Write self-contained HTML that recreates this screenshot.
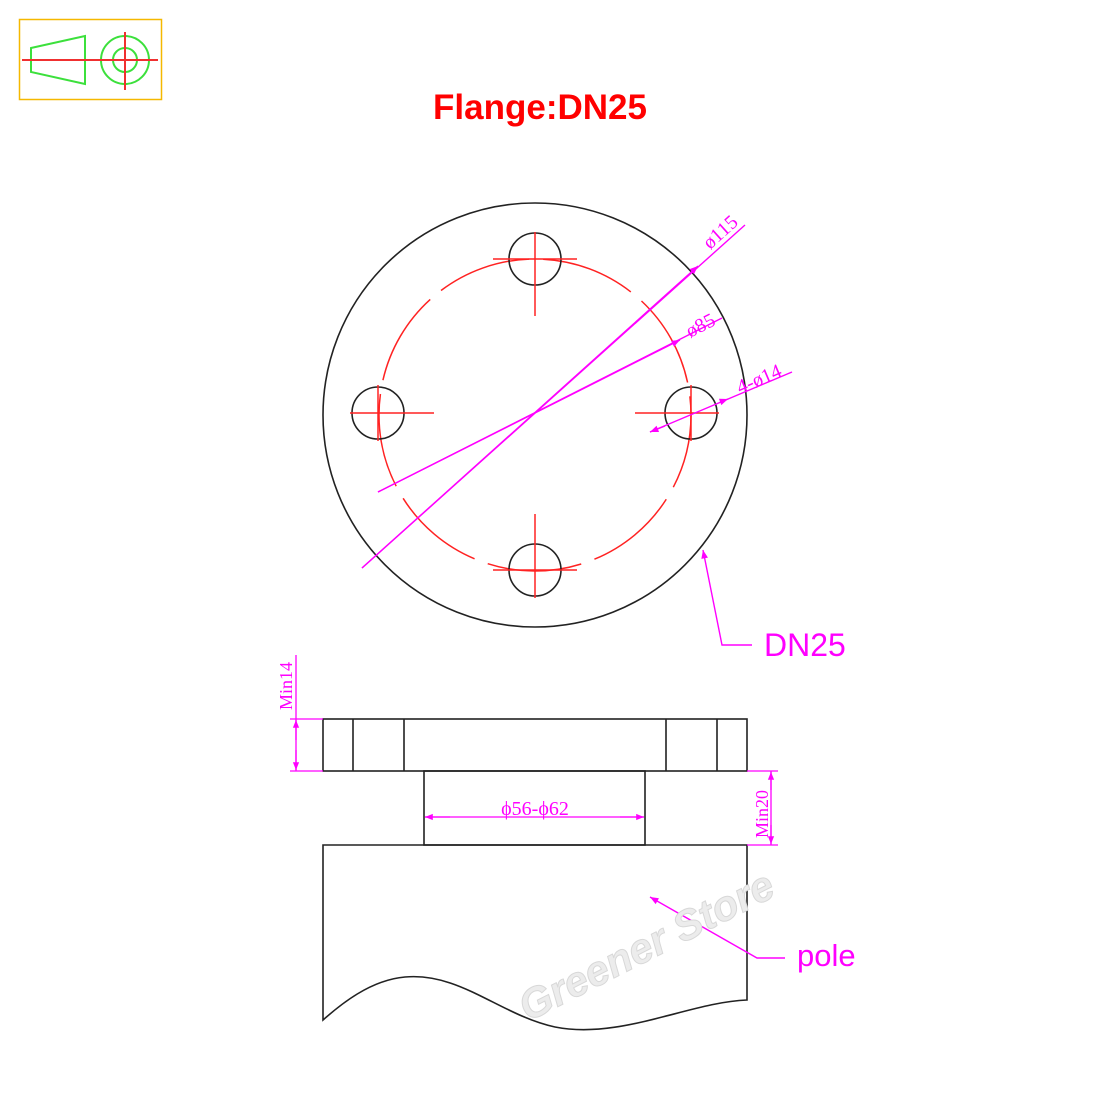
<!DOCTYPE html>
<html><head><meta charset="utf-8"><style>
html,body{margin:0;padding:0;background:#fff;}
svg{display:block;}
</style></head><body>
<svg width="1100" height="1100" viewBox="0 0 1100 1100" xmlns="http://www.w3.org/2000/svg" font-family="Liberation Sans, sans-serif">
<defs>
<marker id="ar" viewBox="0 0 10 10" refX="10" refY="5" markerWidth="9" markerHeight="6" orient="auto-start-reverse"><path d="M0,1 L10,5 L0,9 z" fill="#f0f"/></marker>
</defs>
<!-- icon -->
<rect x="19.5" y="19.5" width="142" height="80" fill="none" stroke="#f5b800" stroke-width="1.5"/>
<path d="M31,48 L85,36 L85,84 L31,72 Z" fill="none" stroke="#3ce03c" stroke-width="2"/>
<circle cx="125" cy="60" r="24" fill="none" stroke="#3ce03c" stroke-width="2"/>
<circle cx="125" cy="60" r="12" fill="none" stroke="#3ce03c" stroke-width="2"/>
<line x1="22" y1="60" x2="158" y2="60" stroke="#f03030" stroke-width="2"/>
<line x1="125" y1="32" x2="125" y2="90" stroke="#f03030" stroke-width="2"/>
<!-- title -->
<text x="540" y="119" text-anchor="middle" font-size="35" font-weight="bold" fill="#f00">Flange:DN25</text>
<!-- top view -->
<circle cx="535" cy="415" r="212" fill="none" stroke="#222" stroke-width="1.6"/>
<circle cx="535" cy="415" r="156" fill="none" stroke="#f22" stroke-width="1.5" stroke-dasharray="95,14" stroke-dashoffset="20"/>
<g fill="none" stroke="#222" stroke-width="1.6">
<circle cx="535" cy="259" r="26"/><circle cx="378" cy="413" r="26"/><circle cx="691" cy="413" r="26"/><circle cx="535" cy="570" r="26"/>
</g>
<g stroke="#f22" stroke-width="1.5">
<line x1="493" y1="259" x2="577" y2="259"/><line x1="535" y1="232" x2="535" y2="316"/>
<line x1="350" y1="413" x2="434" y2="413"/><line x1="378" y1="385" x2="378" y2="441"/>
<line x1="635" y1="413" x2="719" y2="413"/><line x1="691" y1="385" x2="691" y2="441"/>
<line x1="493" y1="570" x2="577" y2="570"/><line x1="535" y1="514" x2="535" y2="598"/>
</g>
<g stroke="#f0f" stroke-width="1.4" fill="none">
<line x1="362" y1="568" x2="745" y2="225" />
<line x1="362" y1="568" x2="698" y2="266" marker-end="url(#ar)"/>
<line x1="378" y1="492" x2="722" y2="318"/>
<line x1="378" y1="492" x2="680" y2="340" marker-end="url(#ar)"/>
<line x1="650" y1="432" x2="792" y2="372"/>
<line x1="650" y1="432" x2="665" y2="426" marker-start="url(#ar)"/>
<line x1="720" y1="402" x2="728" y2="399" marker-end="url(#ar)"/>
</g>
<g fill="#f0f" font-family="Liberation Serif, serif" font-size="20">
<text transform="translate(710,250) rotate(-42)">ø115</text>
<text transform="translate(690,338) rotate(-27)">ø85</text>
<text transform="translate(740,394) rotate(-23)">4-ø14</text>
</g>
<!-- DN25 leader -->
<polyline points="703,550 722,645 752,645" fill="none" stroke="#f0f" stroke-width="1.4" marker-start="url(#ar)"/>
<text x="764" y="656" font-size="32" fill="#f0f">DN25</text>
<!-- side view -->
<g fill="none" stroke="#222" stroke-width="1.6">
<rect x="323" y="719" width="424" height="52"/>
<line x1="353" y1="719" x2="353" y2="771"/><line x1="404" y1="719" x2="404" y2="771"/>
<line x1="666" y1="719" x2="666" y2="771"/><line x1="717" y1="719" x2="717" y2="771"/>
<rect x="424" y="771" width="221" height="74"/>
<path d="M323,845 L747,845 L747,1000 C690,1002 620,1040 555,1027 C500,1015 460,972 405,977 C370,980 340,1005 323,1020 Z"/>
</g>
<g stroke="#f0f" stroke-width="1.3" fill="none">
<line x1="296" y1="655" x2="296" y2="771"/>
<line x1="290" y1="719" x2="323" y2="719"/><line x1="290" y1="771" x2="323" y2="771"/>
<line x1="296" y1="740" x2="296" y2="720" marker-end="url(#ar)"/>
<line x1="296" y1="750" x2="296" y2="770" marker-end="url(#ar)"/>
<line x1="771" y1="771" x2="771" y2="845"/>
<line x1="747" y1="771" x2="778" y2="771"/><line x1="747" y1="845" x2="778" y2="845"/>
<line x1="771" y1="790" x2="771" y2="772" marker-end="url(#ar)"/>
<line x1="771" y1="825" x2="771" y2="844" marker-end="url(#ar)"/>
<line x1="425" y1="817" x2="644" y2="817"/>
<line x1="450" y1="817" x2="425" y2="817" marker-end="url(#ar)"/>
<line x1="620" y1="817" x2="644" y2="817" marker-end="url(#ar)"/>
</g>
<g fill="#f0f" font-family="Liberation Serif, serif" font-size="18">
<text transform="translate(292,710) rotate(-90)">Min14</text>
<text transform="translate(768,838) rotate(-90)">Min20</text>
<text x="535" y="815" text-anchor="middle" font-size="20">ϕ56-ϕ62</text>
</g>
<!-- pole leader -->
<polyline points="650,897 757,958 785,958" fill="none" stroke="#f0f" stroke-width="1.4" marker-start="url(#ar)"/>
<text x="797" y="966" font-size="31" fill="#f0f">pole</text>
<!-- watermark -->
<text transform="translate(528,1022) rotate(-27)" font-size="42" font-weight="bold" font-style="italic" fill="#ececec" stroke="#d8d8d8" stroke-width="1">Greener Store</text>
</svg>
</body></html>
